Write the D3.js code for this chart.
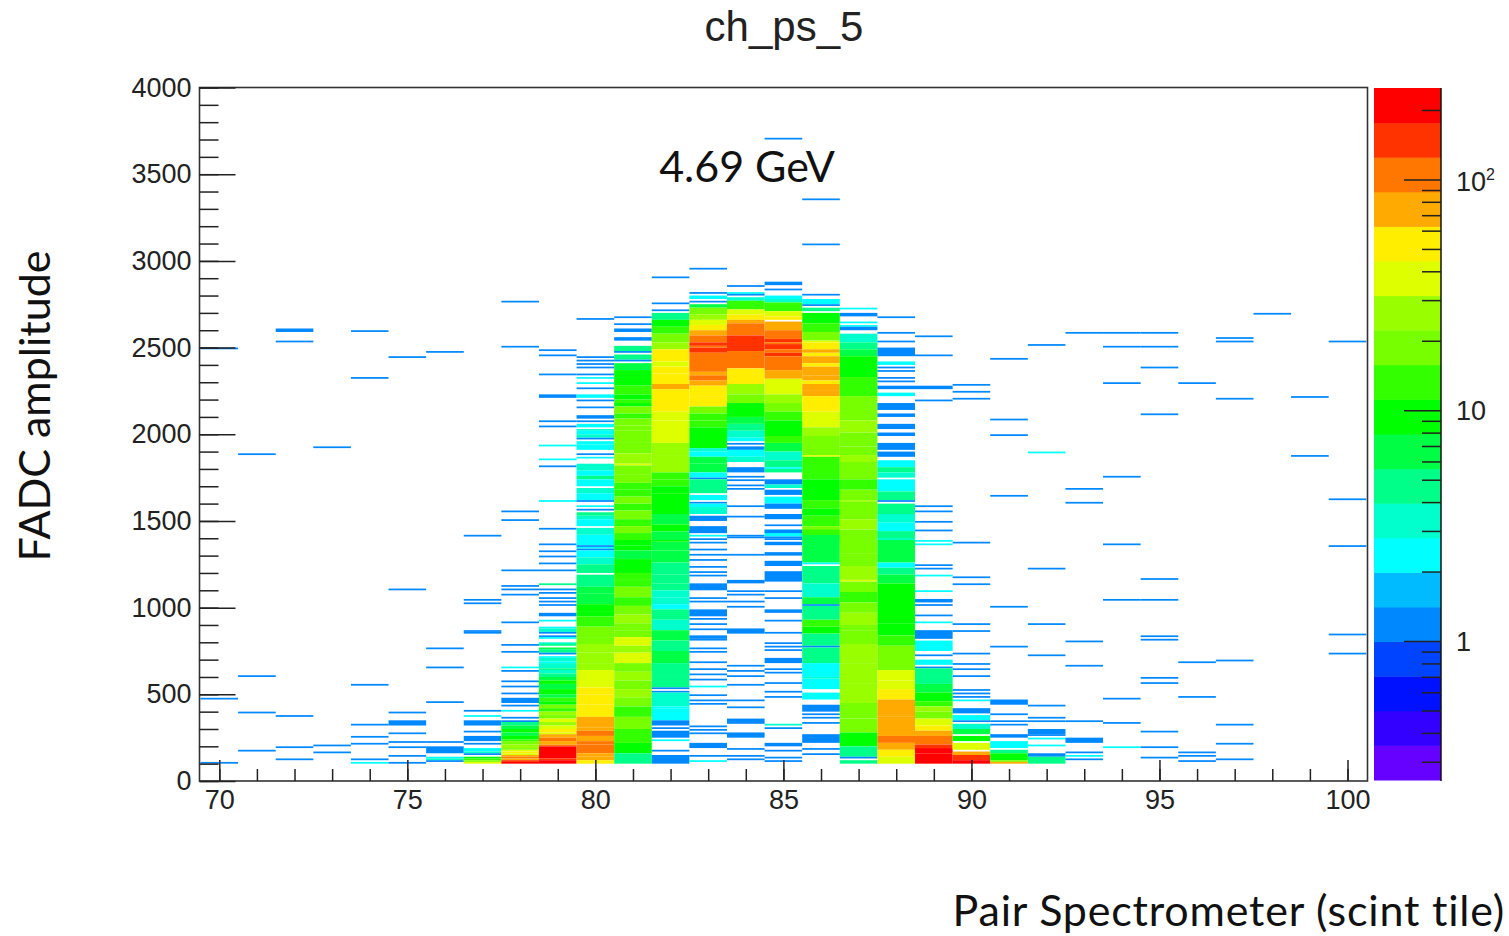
<!DOCTYPE html>
<html>
<head>
<meta charset="utf-8">
<script src="https://cdn.jsdelivr.net/npm/d3@7"></script>
<style>
  html, body { margin: 0; padding: 0; background: #fff; }
  svg { display: block; }
  .tick text { font-family: "Liberation Sans", Arial, sans-serif; fill: #222; }
</style>
</head>
<body>
<svg width="1509" height="936"></svg>
<script>
// each row is [adc, count] for one 10 wide bin, or [adcLow, adcHigh, count] for a run of bins
var col70 = [[2490,1],[470,1],[100,1]];
var col71 = [[1880,1],[600,1],[390,1],[170,1]];
var col72 = [[2590,2610,1],[2530,1],[370,1],[190,200,1],[120,1]];
var col73 = [[1920,1],[200,1],[160,1]];
var col74 = [[2590,1],[2320,1],[550,1],[320,1],[250,1],[210,220,1],[120,130,1],[100,2]];
var col75 = [[2440,1],[1100,1],[390,1],[320,350,1],[270,1],[220,1],[190,1],[140,1],[100,1]];
var col76 = [[2470,1],[760,1],[650,1],[450,1],[220,1],[160,200,1],[130,140,2],[120,3],[110,1]];
var col77 = [[1410,1],[1040,1],[1020,1],[860,1],[850,1],[400,1],[370,2],[320,350,1],[280,1],
  [230,260,1],[210,1],[170,190,2],[160,3],[150,1],[130,140,9],[120,130,13],[110,120,18],[100,110,38]];
var col78 = [[2760,1],[2500,1],[1550,1],[1500,1],[1210,1],[1120,1],[1100,1],[1070,1],[910,1],[780,1],[740,1],
  [650,2],[630,1],[570,1],[540,1],[500,1],[450,480,1],[430,1],[400,2],[360,1],[340,1],[330,2],
  [320,340,4],[300,320,6],[280,300,9],[260,280,6],[240,260,9],[230,240,13],[210,230,18],[190,210,27],
  [180,190,18],[170,180,38],[160,170,55],[150,160,38],[140,150,75],[130,140,105],[120,130,75],[110,120,150],[100,110,200]];
var col79 = [[2480,1],[2450,1],[2340,1],[2210,2230,1],[2070,1],[2040,1],[1930,2],[1850,1860,2],[1810,1],[1610,2],
  [1450,1],[1360,1],[1320,1],[1290,1300,1],[1250,1],[1210,1],[1130,4],[1100,1],[1080,1],[1050,1],[1030,1],[1010,1],
  [950,970,1],[920,2],[880,890,2],[860,880,3],[850,860,1],[830,840,1],[820,2],[790,800,3],[780,4],[760,770,6],[740,760,4],
  [730,1],[710,720,2],[690,710,3],[680,2],[650,680,3],[640,650,4],[620,640,3],[600,620,4],[580,600,6],
  [560,580,9],[530,560,6],[500,530,9],[480,500,6],[460,480,13],[440,460,9],[420,440,18],[400,420,13],
  [380,400,27],[360,380,18],[340,360,38],[320,340,27],[300,320,38],[280,300,55],[270,280,38],
  [250,270,75],[230,250,105],[210,230,75],[200,210,105],[130,200,200],[120,130,150],[100,120,200]];
var col80 = [[2660,1],[2440,1],[2420,1],[2400,1],[2380,1],[2340,1],[2320,2],[2290,2],[2260,1],[2210,2230,2],[2190,1],[2150,1],
  [2090,2110,1],[2070,1],[2040,2060,2],[2020,2030,3],[2000,2020,2],[1980,2000,3],[1970,1],[1940,1960,2],[1910,1940,2],[1880,1],[1860,2],
  [1790,1830,3],[1760,1790,2],[1740,1760,4],[1700,1740,2],[1660,1690,3],[1620,1660,2],[1610,1],[1580,2],[1560,1],
  [1530,1550,4],[1510,1530,3],[1470,1510,2],[1420,1460,3],[1390,1420,2],[1360,1390,2],[1350,1],[1340,2],[1330,1],
  [1290,1330,2],[1250,1290,3],[1200,1250,4],[1120,1190,4],[1080,1120,6],[1020,1080,6],[980,1020,9],[950,980,9],
  [890,950,13],[830,890,18],[790,830,18],[740,790,23],[680,740,27],[640,680,27],[600,640,32],[540,600,38],
  [500,540,55],[440,500,50],[370,440,55],[310,370,75],[290,310,70],[260,290,105],[230,260,75],[210,230,100],[160,210,105],[140,160,75],[120,140,75],[100,120,55]];
var col81 = [[2670,1],[2630,1],[2590,2610,1],[2540,2560,1],[2480,2510,4],[2470,1],[2430,2460,4],[2420,1],[2370,2410,6],
  [2330,2370,9],[2280,2330,9],[2230,2280,13],[2200,2230,9],[2180,2200,13],[2160,2180,9],
  [2120,2160,18],[2090,2120,13],[2050,2090,18],[2020,2050,16],[1950,2020,18],[1890,1950,18],[1830,1890,27],[1820,38],
  [1770,1820,18],[1720,1770,18],[1680,1720,13],[1640,1680,13],[1600,1640,18],[1560,1600,13],[1510,1560,18],[1470,1510,13],[1430,1470,18],[1390,1430,13],
  [1360,1390,9],[1330,1360,9],[1280,1330,6],[1240,1280,9],[1200,1240,9],[1160,1200,13],[1120,1160,13],[1060,1120,18],
  [1010,1060,13],[960,1010,18],[910,960,27],[870,910,18],[830,870,18],[780,830,38],[740,780,27],[680,740,38],
  [630,680,18],[580,630,27],[530,580,18],[480,530,27],[430,480,18],[370,430,13],[300,370,18],[220,300,13],[160,220,9],[100,160,4]];
var col82 = [[2900,1],[2750,1],[2710,1],[2660,2700,4],[2620,2660,9],[2580,2620,13],[2530,2580,18],[2490,2530,27],
  [2420,2490,55],[2390,2420,38],[2350,2390,55],[2290,2350,55],[2260,2290,75],[2180,2260,55],[2130,2180,55],[2080,2130,38],
  [1950,2080,38],[1880,1950,27],[1780,1880,27],[1740,1780,13],[1700,1740,13],[1660,1700,9],[1540,1660,9],[1480,1540,6],[1440,1480,9],[1390,1440,6],
  [1380,1390,9],[1330,1380,6],[1260,1330,6],[1190,1260,4],[1140,1190,4],[1100,1140,4],[1060,1100,3],[1020,1060,3],[990,1020,2],
  [930,990,4],[870,930,3],[810,870,6],[750,810,4],[680,750,6],[600,680,4],[540,600,4],[530,1],[510,1],[430,510,3],[420,2],
  [350,420,2],[320,350,1],[300,1],[250,290,1],[230,2],[170,1],[100,150,1]];
var col83 = [[2950,1],[2810,1],[2780,2800,2],[2760,1],[2730,2750,6],[2690,2730,18],[2660,2690,27],[2630,2660,38],[2600,2630,55],
  [2570,2600,75],[2530,2570,105],[2510,2530,150],[2500,105],[2470,2500,150],[2360,2470,105],[2340,2360,75],[2310,2340,105],[2280,2310,75],
  [2220,2280,55],[2160,2220,55],[2120,2160,18],[2080,2120,13],[2040,2080,13],[1990,2040,9],[1920,1990,9],
  [1900,1920,3],[1870,1900,2],[1830,1870,6],[1780,1830,6],[1750,1780,2],[1740,1],[1660,1740,4],[1620,1650,2],[1600,1],[1580,1600,2],
  [1540,1580,3],[1500,1530,1],[1430,1470,1],[1410,2],[1430,1450,1],[1390,1400,1],[1370,1],[1330,1],[1300,1],[1270,1],[1230,1],[1200,1],[1180,1],
  [1100,1140,1],[1050,1],[1030,1],[950,990,1],[930,1],[900,1],[870,1],[820,840,1],[810,1],[760,1],[740,1],[680,1],[640,1],[610,1],[580,1],
  [540,550,2],[490,1],[460,1],[440,1],[310,1],[290,1],[270,1],[190,220,1],[140,1],[110,2]];
var col84 = [[2850,1],[2810,2820,2],[2800,1],[2770,2790,3],[2720,2770,13],[2690,2720,38],[2660,2690,55],[2640,2660,75],[2570,2640,105],
  [2480,2570,150],[2380,2480,105],[2290,2380,55],[2230,2290,27],[2180,2230,18],[2100,2180,9],[2060,2100,6],[2020,2060,4],[1980,2020,3],
  [1960,1980,2],[1940,1],[1910,1930,1],[1870,1910,2],[1840,1870,3],[1780,1810,1],[1750,1],[1730,1],[1700,1],[1680,1],[1580,1],[1520,1],[1410,1],
  [1400,1],[1300,1],[1140,1160,1],[1090,1],[1070,1],[1030,1],[1000,1],[850,880,1],[660,1],[630,1],[600,1],[550,1],[460,1],[420,1],[340,360,1],[330,1],
  [250,280,1],[180,1],[140,1],[120,1]];
var col85 = [[3700,1],[2860,2880,1],[2830,1],[2780,2800,2],[2760,2780,3],[2710,2760,13],[2680,2710,38],[2660,2680,55],[2600,2650,75],[2550,2600,105],
  [2530,2550,150],[2520,105],[2490,2520,150],[2470,2490,105],[2450,2470,150],[2370,2450,105],[2320,2370,75],[2230,2320,38],[2180,2230,27],
  [2130,2180,18],[2080,2130,13],[1990,2080,9],[1950,1990,13],[1900,1950,6],[1850,1900,3],[1810,1850,4],[1800,2],[1780,1800,4],
  [1710,1740,1],[1690,1710,3],[1650,1680,1],[1600,1640,2],[1570,1600,1],[1510,1540,1],[1470,1],[1410,1450,2],[1390,1],
  [1430,1450,1],[1400,1],[1360,1380,1],[1300,1320,1],[1240,1270,1],[1150,1210,1],[1090,1],[1050,1],[970,990,1],[920,1],[850,1],
  [790,1],[770,1],[750,1],[680,710,1],[640,1],[620,1],[560,1],[510,1],[480,1],[320,3],[300,1],[200,220,1],[170,1],[130,1],[110,1]];
var col86 = [[3350,1],[3090,1],[2800,1],[2750,2780,2],[2740,1],[2710,2730,4],[2640,2700,9],[2590,2640,13],[2540,2590,18],[2530,38],
  [2490,2530,55],[2470,2490,75],[2450,2470,55],[2410,2450,75],[2390,2410,55],[2340,2390,75],[2310,2340,75],[2290,2310,55],[2250,2290,75],
  [2220,2250,75],[2130,2220,55],[2040,2130,38],[1990,2040,27],[1880,1990,18],[1870,38],[1740,1870,13],[1620,1740,9],[1570,1620,13],[1530,1570,9],
  [1470,1530,13],[1390,1470,18],[1420,1450,13],[1260,1420,6],[1250,2],[1140,1240,4],[1060,1140,3],[1020,1060,6],[1010,1],[930,1010,4],[890,930,13],[850,890,9],
  [780,850,4],[770,1],[680,770,4],[600,680,2],[590,3],[530,590,2],[470,510,2],[400,440,1],[380,1],[360,1],[330,1],[220,270,1],[180,1],[150,1]];
var col87 = [[2720,2],[2680,2700,1],[2640,2650,2],[2620,2630,2],[2600,2620,1],[2530,2580,3],[2490,2530,4],[2450,2490,6],[2330,2450,9],
  [2220,2330,13],[2080,2220,18],[2010,2080,27],[1930,2010,18],[1880,1930,18],[1840,1880,27],[1740,1840,18],[1680,1740,13],[1620,1680,18],[1610,27],
  [1510,1610,18],[1450,1510,27],[1390,1450,18],[1310,1390,18],[1240,1310,18],[1160,1240,27],[1150,38],[1090,1150,18],[1030,1090,13],[970,1030,18],
  [900,970,27],[870,900,18],[790,870,18],[680,790,27],[560,680,27],[450,560,27],[360,450,18],[280,360,18],[200,280,9],[140,200,4],[130,1],[100,120,4]];
var col88 = [[2670,1],[2580,1],[2530,1],[2450,2500,1],[2400,2420,2],[2380,1],[2360,1],[2320,2330,1],[2300,1],[2260,2280,1],[2220,2240,2],
  [2140,2180,1],[2100,2120,1],[2030,2060,1],[1990,2010,1],[1910,1950,1],[1870,1900,1],[1810,1850,2],[1780,1810,4],[1750,1780,3],
  [1670,1740,2],[1620,1670,4],[1610,1],[1540,1600,4],[1490,1540,3],[1440,1490,2],[1390,1440,3],
  [1400,1440,4],[1260,1390,6],[1230,1260,2],[1190,1230,4],[1140,1190,6],[910,1140,9],[840,910,9],[780,840,13],[640,780,18],
  [580,640,38],[530,580,32],[470,530,55],[370,470,75],[300,370,75],[260,300,75],[220,260,105],[180,220,75],[140,180,55],[100,140,38]];
var col89 = [[2560,1],[2450,1],[2260,2280,1],[2190,1],[1580,1],[1550,1560,1],[1490,1],[1440,1],[1380,2],[1360,2],[1240,1],[1220,1],[1180,2],[1090,2],
  [1030,1050,1],[1010,1],[950,960,1],[910,2],[820,870,1],[750,810,2],[720,1],[670,700,2],[650,1],[600,650,4],[560,600,4],[510,560,6],[460,510,9],[430,460,13],
  [400,430,27],[360,400,18],[320,360,38],[290,320,55],[260,290,75],[210,260,105],[190,210,150],[160,190,178],[100,160,200]];
var col90 = [[2280,1],[2240,1],[2200,1],[1370,1],[1170,1],[1130,1140,1],[900,1],[860,1],[730,1],[670,1],[640,1],[600,1],[520,1],[500,1],[480,1],[460,2],
  [390,420,1],[350,380,2],[340,1],[300,330,3],[270,300,6],[230,260,9],[180,220,38],[150,170,75],[120,150,150],[100,120,200]];
var col91 = [[2430,1],[2080,1],[1990,1],[1640,1],[1000,1],[770,1],[440,470,1],[380,1],[340,1],[320,1],[250,270,1],[190,230,2],[160,180,4],[120,160,9],[110,18],[100,75]];
var col92 = [[2510,1],[1890,2],[1220,1],[900,1],[720,1],[430,1],[360,1],[340,1],[270,300,1],[260,1],[240,2],[200,2],[140,160,1],[100,140,4]];
var col93 = [[2580,1],[1680,1],[1600,1],[800,1],[660,1],[340,1],[220,250,1],[160,1],[140,2],[120,1]];
var col94 = [[2580,1],[2500,1],[2290,1],[1750,1],[1360,1],[1040,1],[470,1],[330,1],[190,2]];
var col95 = [[2580,1],[2500,1],[2380,1],[2110,1],[1160,1],[1040,1],[830,1],[810,1],[590,1],[560,1],[280,1],[190,1],[130,1]];
var col96 = [[2290,1],[680,1],[480,1],[160,1],[140,1],[110,1]];
var col97 = [[2550,1],[2530,1],[2200,1],[690,1],[320,1],[210,1],[120,1]];
var col98 = [[2690,1]];
var col99 = [[2210,1],[1870,1]];
var col100 = [[2530,1],[1620,1],[1350,1],[840,1],[730,1]];

var columnBins = [70,71,72,73,74,75,76,77,78,79,80,81,82,83,84,85,86,87,88,89,90,91,92,93,94,95,96,97,98,99,100];
var columnRows = [col70,col71,col72,col73,col74,col75,col76,col77,col78,col79,col80,col81,col82,col83,col84,col85,
  col86,col87,col88,col89,col90,col91,col92,col93,col94,col95,col96,col97,col98,col99,col100];

var bandColors = ["#6600ff","#3300ff","#0011ff","#0044ff","#0088ff","#00bbff","#00ffff","#00ffcc","#00ff88","#00ff44",
  "#00ff00","#33ff00","#77ff00","#99ff00","#ddff00","#ffee00","#ffaa00","#ff7700","#ff3300","#ff0000"];

var xMajor = [70,75,80,85,90,95,100];
var yMajor = [0,500,1000,1500,2000,2500,3000,3500,4000];
var zLabels = [1,10,100];
var zMinor = [0.3,0.4,0.5,0.6,0.7,0.8,0.9,2,3,4,5,6,7,8,9,20,30,40,50,60,70,80,90,200];

var svg = d3.select("svg");

var x = d3.scaleLinear().domain([69.5,100.5]).range([200.5,1366.3]);
var y = d3.scaleLinear().domain([0,4000]).range([781,87.5]);
var z = d3.scaleLog().domain([0.25,249]).range([780,88]);
var band = d3.scaleLog().domain([0.25,249]).range([0,20]);

var defs = svg.append("defs");
defs.append("filter").attr("id","soft")
    .attr("x","-2%").attr("y","-2%").attr("width","104%").attr("height","104%")
  .append("feGaussianBlur").attr("stdDeviation",0.45);

// flatten the columns into cells
var cells = [];
columnRows.forEach(function(rows, i) {
  rows.forEach(function(r) {
    if (r.length == 3) cells.push({bin: columnBins[i], lo: r[0], hi: r[1], n: r[2]});
    else cells.push({bin: columnBins[i], lo: r[0], hi: r[0] + 10, n: r[1]});
  });
});

svg.append("g").attr("filter","url(#soft)").selectAll("rect")
  .data(cells)
  .enter().append("rect")
    .attr("x", function(d) { return x(d.bin - 0.5); })
    .attr("width", function(d) { return x(d.bin + 0.5) - x(d.bin - 0.5); })
    .attr("y", function(d) { return y(d.hi); })
    .attr("height", function(d) { return y(d.lo) - y(d.hi); })
    .style("fill", function(d) { return bandColors[Math.min(19, Math.floor(band(d.n)))]; });

// frame and axes
svg.append("rect").attr("x",199.5).attr("y",87.5).attr("width",1168).attr("height",693.5)
    .style("fill","none").style("stroke","#333").style("stroke-width",1.6);

function cleanAxis(g) {
  g.select(".domain").remove();
  g.selectAll("line").style("stroke","#222").style("stroke-width",1.5);
  g.selectAll("text").style("font-size","27px");
}

svg.append("g").attr("transform","translate(0,781)")
  .call(d3.axisBottom(x).tickValues(d3.range(70,101)).tickSizeInner(-12).tickSizeOuter(0).tickFormat(""))
  .call(cleanAxis);
svg.append("g").attr("transform","translate(0,781)")
  .call(d3.axisBottom(x).tickValues(xMajor).tickSizeInner(-21).tickSizeOuter(0).tickPadding(9).tickFormat(d3.format("d")))
  .call(cleanAxis);
svg.append("g").attr("transform","translate(199.5,0)")
  .call(d3.axisLeft(y).tickValues(d3.range(0,4001,100)).tickSizeInner(-19).tickSizeOuter(0).tickFormat(""))
  .call(cleanAxis);
svg.append("g").attr("transform","translate(199.5,0)")
  .call(d3.axisLeft(y).tickValues(yMajor).tickSizeInner(-36).tickSizeOuter(0).tickPadding(8).tickFormat(d3.format("d")))
  .call(cleanAxis);

// colour bar
svg.append("g").selectAll("rect")
  .data(bandColors)
  .enter().append("rect")
    .attr("x",1374)
    .attr("width",67)
    .attr("y", function(d, i) { return z(band.invert(i + 1)); })
    .attr("height", function(d, i) { return z(band.invert(i)) - z(band.invert(i + 1)) + 0.5; })
    .style("fill", function(d) { return d; });

svg.append("line").attr("x1",1441).attr("x2",1441).attr("y1",88).attr("y2",781)
    .style("stroke","#111").style("stroke-width",1.5);

svg.append("g").attr("transform","translate(1441,0)")
  .call(d3.axisRight(z).tickValues(zMinor).tickSizeInner(-19).tickSizeOuter(0).tickFormat(""))
  .call(cleanAxis);
svg.append("g").attr("transform","translate(1441,0)")
  .call(d3.axisRight(z).tickValues(zLabels).tickSizeInner(-37).tickSizeOuter(0).tickFormat(""))
  .call(cleanAxis);

var zText = svg.append("g").selectAll("text")
  .data(zLabels)
  .enter().append("text")
    .attr("x",1456)
    .attr("y", function(d) { return z(d) + (d == 100 ? 12 : 10); })
    .style("font-family",'"Liberation Sans", Arial, sans-serif')
    .style("font-size","27px")
    .style("fill","#222")
    .text(function(d) { return d == 100 ? "10" : d; });
zText.filter(function(d) { return d == 100; })
  .append("tspan").attr("dy",-11).style("font-size","16px").text("2");

// titles
svg.append("text").attr("x",784).attr("y",41).attr("text-anchor","middle")
    .style("font-family",'"Liberation Sans", Arial, sans-serif').style("font-size","42px").style("fill","#222")
    .text("ch_ps_5");

var callout = '"Lato", "Open Sans", sans-serif';
svg.append("text").attr("x",747).attr("y",182).attr("text-anchor","middle")
    .style("font-family",callout).style("font-size","43px").style("fill","#111")
    .style("font-variant-ligatures","none")
    .text("4.69 GeV");
svg.append("text").attr("x",1505).attr("y",926).attr("text-anchor","end")
    .style("font-family",callout).style("font-size","43px").style("fill","#111")
    .style("font-variant-ligatures","none").style("letter-spacing","0.8px")
    .text("Pair Spectrometer (scint tile)");
svg.append("text").attr("transform","translate(50,406) rotate(-90)").attr("text-anchor","middle")
    .style("font-family",callout).style("font-size","43px").style("fill","#111")
    .text("FADC amplitude");
</script>
</body>
</html>
